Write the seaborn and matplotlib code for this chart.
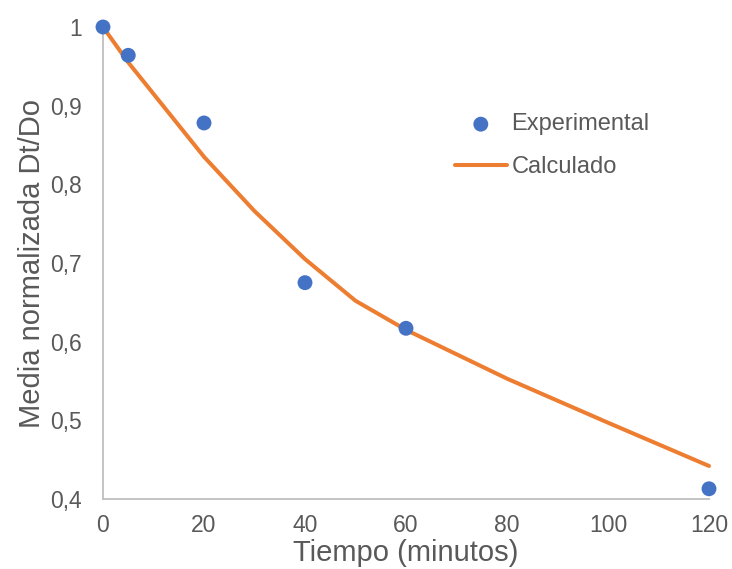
import pandas as pd
import matplotlib
matplotlib.use("Agg")
import matplotlib.pyplot as plt
import seaborn as sns

# --- data ---
tiempo_exp = [0, 5, 20, 40, 60, 120]
dt_do_exp = [1.0, 0.964, 0.878, 0.675, 0.617, 0.413]

# calculated curve at these times
tiempo_calc = [0, 5, 10, 20, 30, 40, 50, 60, 80, 100, 120]
dt_do_calc = [1.0, 0.955, 0.915, 0.835, 0.766, 0.705, 0.652, 0.615, 0.553, 0.497, 0.442]

y_ticks = [0.4, 0.5, 0.6, 0.7, 0.8, 0.9, 1.0]
y_tick_labels = ["0,4", "0,5", "0,6", "0,7", "0,8", "0,9", "1"]
x_ticks = [0, 20, 40, 60, 80, 100, 120]

exp_df = pd.DataFrame({"Tiempo": tiempo_exp, "Media": dt_do_exp})
calc_df = pd.DataFrame({"Tiempo": tiempo_calc, "Media": dt_do_calc})

sns.set_style("white")
plt.rcParams["font.family"] = ["Liberation Sans", "DejaVu Sans"]

grey_text = "#595959"
axis_grey = "#BFBFBF"

fig = plt.figure(figsize=(7.32, 5.69), dpi=100)
ax = fig.add_axes([103 / 732, 1 - 499 / 569, 606 / 732, 472 / 569])

sns.lineplot(data=calc_df, x="Tiempo", y="Media", ax=ax, color="#ED7D31",
             linewidth=2.9, label="Calculado", zorder=3)
sns.scatterplot(data=exp_df, x="Tiempo", y="Media", ax=ax, color="#4472C4",
                s=115, edgecolor="none", label="Experimental", zorder=4,
                clip_on=False)
for line in ax.lines:
    line.set_clip_on(False)
    line.set_solid_joinstyle("round")

ax.set_xlim(0, 120)
ax.set_ylim(0.4, 1.0)
ax.set_xticks(x_ticks)
ax.set_yticks(y_ticks)
ax.set_yticklabels(y_tick_labels)

for side in ["top", "right"]:
    ax.spines[side].set_visible(False)
for side in ["left", "bottom"]:
    ax.spines[side].set_color(axis_grey)
    ax.spines[side].set_linewidth(1.3)

ax.tick_params(axis="both", length=0, labelsize=16.5, colors=grey_text)
ax.tick_params(axis="y", pad=15)
ax.tick_params(axis="x", pad=11)

ax.set_xlabel("Tiempo (minutos)", fontsize=21, color=grey_text, labelpad=1)
ax.set_ylabel("Media normalizada Dt/Do", fontsize=21, color=grey_text, labelpad=3)

# legend: Experimental first, then Calculado
handles, labels = ax.get_legend_handles_labels()
order = [labels.index("Experimental"), labels.index("Calculado")]
ax.legend([handles[i] for i in order], [labels[i] for i in order],
          loc="upper left", bbox_to_anchor=(0.565, 0.837), frameon=False,
          fontsize=17, labelcolor=grey_text, handlelength=2.2,
          handletextpad=0.2, labelspacing=0.88, markerscale=1.0,
          borderaxespad=0)

fig.savefig("out.png", dpi=100)
